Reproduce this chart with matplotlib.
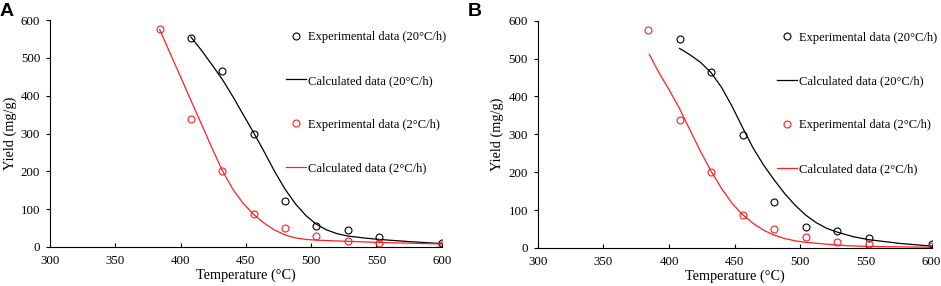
import matplotlib
matplotlib.use("Agg")
import matplotlib.pyplot as plt
from matplotlib.lines import Line2D

# ---- data ----
exp_x_20 = [408, 432, 456, 480, 504, 528, 552, 600]
exp_y_20 = [553, 465, 299, 121, 55, 44, 27, 11]
exp_x_2 = [384, 408, 432, 456, 480, 504, 528, 552, 600]
exp_y_2 = [575, 339, 201, 86, 51, 28, 17, 11, 5]

calcA_x_20 = [408, 416, 424, 432, 440, 448, 456, 464, 472, 480, 488, 496, 504, 512, 520, 528, 540, 552, 576, 600]
calcA_y_20 = [555, 520, 482, 443, 398, 350, 302, 252, 200, 153, 114, 83, 60, 45, 35, 29, 24, 20, 14, 9]
calcA_x_2 = [384, 392, 400, 408, 416, 424, 432, 440, 448, 456, 464, 472, 480, 488, 496, 504, 520, 536, 552, 576, 600]
calcA_y_2 = [575, 512, 450, 387, 325, 262, 202, 153, 115, 86, 63, 45, 32, 24, 20, 18, 16, 14, 12, 10, 8]

calcB_x_20 = [408, 416, 424, 432, 440, 448, 456, 464, 472, 480, 488, 496, 504, 512, 520, 528, 540, 552, 576, 600]
calcB_y_20 = [527, 510, 490, 463, 424, 374, 318, 264, 219, 180, 144, 113, 87, 67, 52, 42, 30, 22, 12, 5]
calcB_x_2 = [385, 392, 400, 408, 416, 424, 432, 440, 448, 456, 464, 472, 480, 488, 496, 504, 520, 536, 552, 576, 600]
calcB_y_2 = [511, 465, 418, 368, 311, 255, 203, 157, 118, 88, 65, 47, 34, 25, 19, 15, 10, 6, 4, 3, 2]

x_ticks = [300, 350, 400, 450, 500, 550, 600]
y_ticks = [0, 100, 200, 300, 400, 500, 600]
legend_labels = ["Experimental data (20\u00b0C/h)", "Calculated data (20\u00b0C/h)",
                 "Experimental data (2\u00b0C/h)", "Calculated data (2\u00b0C/h)"]
panel_labels = ["A", "B"]

plt.rcParams['font.family'] = ['Liberation Serif', 'DejaVu Serif']

fig = plt.figure(figsize=(9.41, 2.86), dpi=100)
axA = fig.add_axes([0.0531, 0.1364, 0.4163, 0.7936])
axB = fig.add_axes([0.5714, 0.1329, 0.4187, 0.7947])

RED = '#ff2020'
panels = [
    (axA, calcA_x_20, calcA_y_20, calcA_x_2, calcA_y_2, 0.6025),
    (axB, calcB_x_20, calcB_y_20, calcB_x_2, calcB_y_2, 0.608),
]

for i, (ax, cx20, cy20, cx2, cy2, lx) in enumerate(panels):
    ax.plot(cx20, cy20, color='black', lw=0.9, solid_joinstyle='round')
    ax.plot(cx2, cy2, color=RED, lw=0.9, solid_joinstyle='round')
    ax.plot(exp_x_20, exp_y_20, 'o', mfc='none', mec='black', ms=5, mew=0.8, ls='none')
    ax.plot(exp_x_2, exp_y_2, 'o', mfc='none', mec=RED, ms=5, mew=0.8, ls='none')
    ax.set_xlim(300, 600)
    ax.set_ylim(0, 600)
    ax.set_xticks(x_ticks)
    ax.set_yticks(y_ticks)
    for s in ['top', 'right']:
        ax.spines[s].set_visible(False)
    for s in ['left', 'bottom']:
        ax.spines[s].set_linewidth(0.8)
    ax.tick_params(axis='x', direction='in', length=3, width=0.8, labelsize=9.3, pad=6)
    ax.tick_params(axis='y', direction='out', length=3, width=0.8, labelsize=9.3, pad=4)
    ax.set_xlabel("Temperature (\u00b0C)", fontsize=10.3, labelpad=1)
    ax.set_ylabel("Yield (mg/g)", fontsize=10.3, labelpad=3)

    handles = [
        Line2D([], [], marker='o', mfc='none', mec='black', ms=5, mew=0.8, ls='none'),
        Line2D([], [], color='black', lw=0.9),
        Line2D([], [], marker='o', mfc='none', mec=RED, ms=5, mew=0.8, ls='none'),
        Line2D([], [], color=RED, lw=0.9),
    ]
    ax.legend(handles, legend_labels, loc='upper left', bbox_to_anchor=(lx, 0.952),
              frameon=False, fontsize=9, labelspacing=2.55, handlelength=1.6,
              handletextpad=0.15, borderpad=0, borderaxespad=0)

fig.text(0.0, 0.99, panel_labels[0], fontsize=14, fontweight='bold',
         family='Liberation Sans', va='top', ha='left')
fig.text(0.497, 0.99, panel_labels[1], fontsize=14, fontweight='bold',
         family='Liberation Sans', va='top', ha='left')

fig.savefig("out.png", dpi=100)
